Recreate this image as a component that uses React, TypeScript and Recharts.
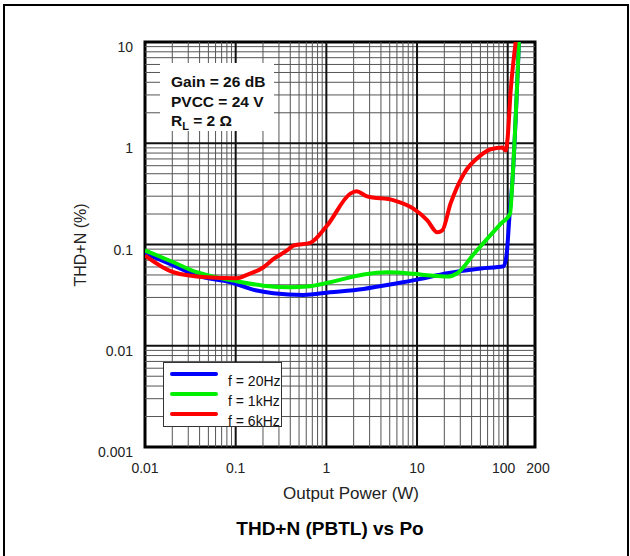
import React from 'react';
import { LineChart, Line, XAxis, YAxis, ReferenceLine, ReferenceArea } from 'recharts';

// axis ticks and grid values (log-log)
const xTicks = [0.01, 0.1, 1, 10, 100, 200];
const yTicks = [0.001, 0.01, 0.1, 1, 10];
const xMajor = [0.1, 1, 10, 100];
const xMinor = [
  0.02, 0.03, 0.04, 0.05, 0.06, 0.07, 0.08, 0.09,
  0.2, 0.3, 0.4, 0.5, 0.6, 0.7, 0.8, 0.9,
  2, 3, 4, 5, 6, 7, 8, 9,
  20, 30, 40, 50, 60, 70, 80, 90,
];
const yMajor = [0.01, 0.1, 1];
const yMinor = [
  0.002, 0.003, 0.004, 0.005, 0.006, 0.007, 0.008, 0.009,
  0.02, 0.03, 0.04, 0.05, 0.06, 0.07, 0.08, 0.09,
  0.2, 0.3, 0.4, 0.5, 0.6, 0.7, 0.8, 0.9,
  2, 3, 4, 5, 6, 7, 8, 9,
];

// f = 20Hz
const po20 = [0.01, 0.0206, 0.0373, 0.087, 0.171, 0.26, 0.557, 1.1, 2.56, 6.04, 10, 21.6, 50.3, 90.3, 97.5, 105, 112.8, 133];
const thd20 = [0.082, 0.062, 0.0493, 0.0424, 0.0351, 0.033, 0.0318, 0.0337, 0.0364, 0.0414, 0.045, 0.052, 0.058, 0.061, 0.081, 0.2, 0.43, 10];

// f = 1kHz
const po1k = [0.01, 0.0206, 0.0373, 0.0569, 0.103, 0.203, 0.4, 0.612, 1.1, 2.58, 4.69, 9.2, 14.1, 21.6, 27.8, 42.5, 83.7, 106, 112.8, 133];
const thd1k = [0.0873, 0.0668, 0.0532, 0.0482, 0.0434, 0.0392, 0.0378, 0.0384, 0.0424, 0.0505, 0.0532, 0.0513, 0.0493, 0.0482, 0.052, 0.081, 0.16, 0.201, 0.43, 10];

// f = 6kHz
const po6k = [0.01, 0.0206, 0.0481, 0.103, 0.133, 0.203, 0.262, 0.368, 0.435, 0.665, 1.02, 1.84, 2.14, 2.82, 5.55, 9.2, 13, 16.7, 19, 23.4, 32.9, 50.3, 64.9, 87.3, 95, 99.3, 108, 122.5];
const thd6k = [0.0778, 0.0532, 0.0474, 0.0463, 0.0501, 0.0596, 0.0721, 0.0873, 0.0977, 0.104, 0.154, 0.318, 0.335, 0.299, 0.273, 0.225, 0.173, 0.132, 0.138, 0.253, 0.501, 0.76, 0.873, 0.906, 0.847, 1.07, 3.35, 10];

const toPoints = (po: number[], thd: number[]) => po.map((p, i) => ({ p, thd: thd[i] }));

const series = [
  { name: 'f = 20Hz', color: '#0000ff', data: toPoints(po20, thd20) },
  { name: 'f = 1kHz', color: '#00ee00', data: toPoints(po1k, thd1k) },
  { name: 'f = 6kHz', color: '#ff0000', data: toPoints(po6k, thd6k) },
];

const font = '"Liberation Sans", Arial, sans-serif';

// small nudges so "100" and "200" don't run together
const xTickShift: Record<number, number> = { 100: -4, 200: 3 };

const XTick = (props: any) => {
  const { x, y, payload } = props;
  return (
    <text x={x + (xTickShift[payload.value] || 0)} y={y + 26} textAnchor="middle" fontSize={14} fill="#222" fontFamily={font}>
      {payload.value}
    </text>
  );
};

const YTick = (props: any) => {
  const { x, y, payload } = props;
  return (
    <text x={x - 12} y={y + 10} textAnchor="end" fontSize={14} fill="#222" fontFamily={font}>
      {payload.value}
    </text>
  );
};

const LegendBox = () => (
  <div
    style={{
      position: 'absolute',
      left: 163,
      top: 362,
      width: 117,
      height: 63,
      background: '#fff',
      border: '1px solid #333',
      fontFamily: font,
      fontSize: 14,
      color: '#111',
    }}
  >
    {series.map((s, i) => (
      <div key={s.name} style={{ position: 'absolute', left: 0, top: 6 + i * 20, height: 20, width: 117 }}>
        <div style={{ position: 'absolute', left: 6, top: 3, width: 48, height: 4, background: s.color, borderRadius: 2 }} />
        <div style={{ position: 'absolute', left: 64, top: 4, lineHeight: '16px', whiteSpace: 'nowrap' }}>{s.name}</div>
      </div>
    ))}
  </div>
);

export default function App() {
  return (
    <div style={{ position: 'absolute', left: 0, top: 0, width: 630, height: 556, background: '#fff', overflow: 'hidden' }}>
      <div style={{ position: 'absolute', left: 3, top: 4, width: 622, height: 600, border: '2px solid #000' }} />
      <LineChart width={630} height={556} margin={{ top: 42, right: 95, left: 85, bottom: 79 }}>
        <XAxis
          dataKey="p"
          type="number"
          scale="log"
          domain={[0.01, 200]}
          ticks={xTicks}
          allowDataOverflow
          axisLine={false}
          tickLine={false}
          tickSize={0}
          tickMargin={0}
          height={30}
          interval={0}
          tick={<XTick />}
        />
        <YAxis
          dataKey="thd"
          type="number"
          scale="log"
          domain={[0.001, 10]}
          ticks={yTicks}
          allowDataOverflow
          axisLine={false}
          tickLine={false}
          tickSize={0}
          tickMargin={0}
          width={60}
          interval={0}
          tick={<YTick />}
        />
        {xMinor.map((v) => (
          <ReferenceLine key={'xm' + v} x={v} stroke="#555" strokeWidth={1} />
        ))}
        {yMinor.map((v) => (
          <ReferenceLine key={'ym' + v} y={v} stroke="#555" strokeWidth={1} />
        ))}
        {xMajor.map((v) => (
          <ReferenceLine key={'xM' + v} x={v} stroke="#111" strokeWidth={2} />
        ))}
        {yMajor.map((v) => (
          <ReferenceLine key={'yM' + v} y={v} stroke="#111" strokeWidth={2} />
        ))}
        <ReferenceArea x1={0.01} x2={200} y1={0.001} y2={10} fill="none" stroke="#000" strokeWidth={3} />
        {series.map((s) => (
          <Line
            key={s.name}
            data={s.data}
            dataKey="thd"
            name={s.name}
            type="monotone"
            stroke={s.color}
            strokeWidth={4}
            dot={false}
            isAnimationActive={false}
          />
        ))}
      </LineChart>
      <LegendBox />
      <div
        style={{
          position: 'absolute',
          left: 160,
          top: 63,
          width: 114,
          height: 68,
          background: '#fff',
          fontFamily: font,
          fontWeight: 'bold',
          fontSize: 15.5,
          lineHeight: '19.5px',
          color: '#111',
          paddingLeft: 11,
          paddingTop: 9,
          boxSizing: 'border-box',
          whiteSpace: 'nowrap',
        }}
      >
        <div>Gain = 26 dB</div>
        <div>PVCC = 24 V</div>
        <div>
          R<sub style={{ fontSize: 11, verticalAlign: 'sub', lineHeight: 0 }}>L</sub> = 2 Ω
        </div>
      </div>
      <div
        style={{
          position: 'absolute',
          left: 81,
          top: 245,
          transform: 'translate(-50%, -50%) rotate(-90deg)',
          fontFamily: font,
          fontSize: 16,
          color: '#222',
          whiteSpace: 'nowrap',
        }}
      >
        THD+N (%)
      </div>
      <div
        style={{
          position: 'absolute',
          left: 351,
          top: 494,
          transform: 'translate(-50%, -50%)',
          fontFamily: font,
          fontSize: 17,
          color: '#222',
          whiteSpace: 'nowrap',
        }}
      >
        Output Power (W)
      </div>
      <div
        style={{
          position: 'absolute',
          left: 330,
          top: 529,
          transform: 'translate(-50%, -50%)',
          fontFamily: font,
          fontSize: 19,
          fontWeight: 'bold',
          color: '#000',
          whiteSpace: 'nowrap',
        }}
      >
        THD+N (PBTL) vs Po
      </div>
    </div>
  );
}
